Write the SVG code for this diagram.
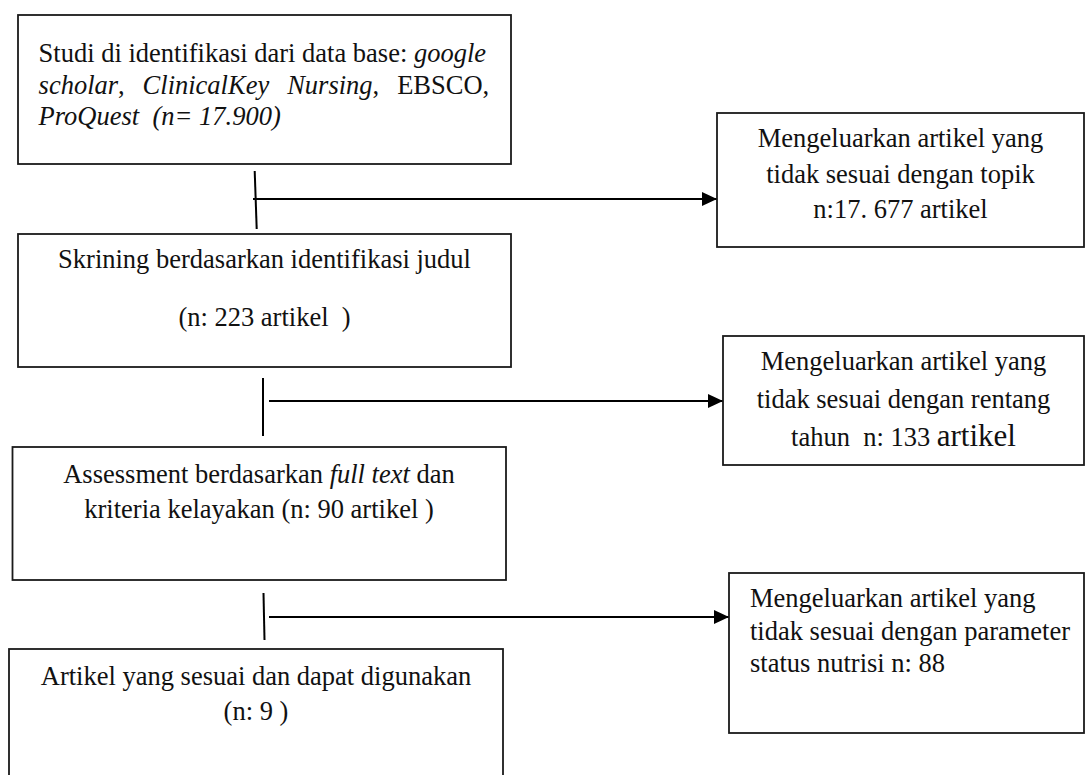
<svg xmlns="http://www.w3.org/2000/svg" width="1085" height="775" viewBox="0 0 1085 775">
<defs>
<style>
.box{fill:#fff;stroke:#1a1a1a;stroke-width:1.8}
.t{font-family:"Liberation Serif","Times New Roman",serif;font-size:26.5px;fill:#111}
.c{text-anchor:middle}
.i{font-style:italic}
.ln{stroke:#000;stroke-width:2;fill:none}
</style>
<marker id="ah" markerWidth="16" markerHeight="14" refX="15" refY="7" orient="auto" markerUnits="userSpaceOnUse"><path d="M0,0 L15,7 L0,14 z" fill="#000"/></marker>
</defs>
<rect width="1085" height="775" fill="#fff"/>
<g id="connectors">
<line class="ln" x1="254.7" y1="171" x2="256.7" y2="229"/>
<line class="ln" x1="253" y1="199" x2="717" y2="199" marker-end="url(#ah)"/>
<line class="ln" x1="263" y1="378" x2="263" y2="436"/>
<line class="ln" x1="269" y1="401" x2="723" y2="401" marker-end="url(#ah)"/>
<line class="ln" x1="263.5" y1="593" x2="264.5" y2="640"/>
<line class="ln" x1="269" y1="617" x2="729" y2="617" marker-end="url(#ah)"/>
</g>
<g id="n1">
<rect class="box" x="18" y="15" width="493" height="149"/>
<text class="t" x="38.6" y="62">Studi di identifikasi dari data base: <tspan class="i">google</tspan></text>
<text class="t" y="94"><tspan class="i" x="38.6">scholar</tspan>,<tspan class="i" x="142.6">ClinicalKey</tspan><tspan class="i" x="287.2">Nursing</tspan>,<tspan x="397.2">EBSCO,</tspan></text>
<text class="t i" x="38.6" y="125" xml:space="preserve">ProQuest  (n= 17.900)</text>
</g>
<g id="n2">
<rect class="box" x="18" y="234" width="493" height="133"/>
<text class="t c" x="264.5" y="268">Skrining berdasarkan identifikasi judul</text>
<text class="t c" x="264.5" y="326" xml:space="preserve">(n: 223 artikel  )</text>
</g>
<g id="n3">
<rect class="box" x="12.5" y="447" width="493.5" height="133"/>
<text class="t c" x="259" y="483">Assessment berdasarkan <tspan class="i">full text</tspan> dan</text>
<text class="t c" x="259" y="518">kriteria kelayakan (n: 90 artikel )</text>
</g>
<g id="n4">
<rect class="box" x="9" y="649" width="494" height="140"/>
<text class="t c" x="256" y="685">Artikel yang sesuai dan dapat digunakan</text>
<text class="t c" x="256" y="720">(n: 9 )</text>
</g>
<g id="e1">
<rect class="box" x="717" y="113" width="367" height="134"/>
<text class="t c" x="900.5" y="147">Mengeluarkan artikel yang</text>
<text class="t c" x="900.5" y="183">tidak sesuai dengan topik</text>
<text class="t c" x="900.5" y="218">n:17. 677 artikel</text>
</g>
<g id="e2">
<rect class="box" x="723" y="336" width="361" height="129"/>
<text class="t c" x="903.5" y="370">Mengeluarkan artikel yang</text>
<text class="t c" x="903.5" y="408">tidak sesuai dengan rentang</text>
<text class="t c" x="903.5" y="446" xml:space="preserve">tahun  n: 133 <tspan style="font-size:31px">artikel</tspan></text>
</g>
<g id="e3">
<rect class="box" x="729" y="573" width="355" height="160"/>
<text class="t" x="750" y="607">Mengeluarkan artikel yang</text>
<text class="t" x="750" y="640">tidak sesuai dengan parameter</text>
<text class="t" x="750" y="672">status nutrisi n: 88</text>
</g>
</svg>
